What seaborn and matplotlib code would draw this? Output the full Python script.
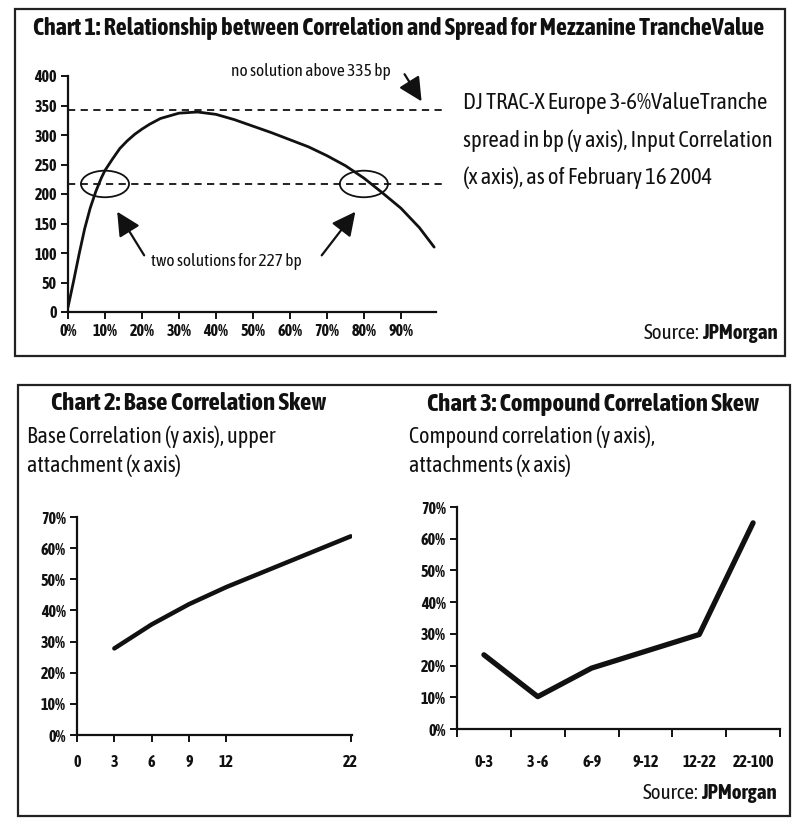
import matplotlib
matplotlib.use("Agg")
import matplotlib.pyplot as plt
from matplotlib.patches import Rectangle, Ellipse
from matplotlib import font_manager
import matplotlib.patheffects as pe
import seaborn as sns
import pandas as pd
import numpy as np

# ---------------- data ----------------
corr_pct = [0, 1.5, 3, 4.5, 6, 7.5, 9, 10, 12, 14, 16, 18, 20, 22, 25, 30, 35, 40, 45,
            50, 55, 60, 65, 70, 75, 80, 85, 90, 95, 99]
spread_bp = [8, 52, 98, 141, 176, 204, 227, 240, 259, 277, 290, 301, 310, 318, 328, 337, 339, 335, 326,
             315, 304, 292, 280, 265, 248, 227, 202, 176, 143, 110]
no_solution_level = 343
two_solution_level = 217
chart1_xticks = [0, 10, 20, 30, 40, 50, 60, 70, 80, 90]
chart1_yticks = [0, 50, 100, 150, 200, 250, 300, 350, 400]

base_attach = [3, 6, 9, 12, 22]
base_corr = [27.8, 35.5, 42.0, 47.5, 63.8]
base_xticks = [0, 3, 6, 9, 12, 22]

tranches = ["0-3", "3 -6", "6-9", "9-12", "12-22", "22-100"]
compound_corr = [23.4, 10.2, 19.2, 24.5, 29.8, 65.0]
pct_ticks = [0, 10, 20, 30, 40, 50, 60, 70]

# ---------------- style ----------------
sns.set_style("ticks")


def wnum(w):
    if isinstance(w, (int, float)):
        return w
    return font_manager.weight_dict.get(str(w), 400)


info = {}
for f in font_manager.fontManager.ttflist:
    key = f.name
    if f.name == "DejaVu Sans" and "condensed" in str(f.stretch):
        key = "DejaVu Sans|condensed"
    info.setdefault(key, set()).add(wnum(f.weight))
cands = [n for n in sorted(info) if ("Narrow" in n or "Condensed" in n or "condensed" in n)]
with_bold = [n for n in cands if max(info[n]) >= 600 and min(info[n]) <= 500]
if with_bold:
    chosen = with_bold[0]
    HAS_BOLD = True
elif cands:
    chosen = cands[0]
    HAS_BOLD = False
else:
    chosen = "DejaVu Sans"
    HAS_BOLD = True
family_name = chosen.split("|")[0]
plt.rcParams["font.family"] = [family_name, "DejaVu Sans"]
plt.rcParams["font.stretch"] = "condensed"
INK = "#111111"

if HAS_BOLD:
    BOLD = dict(fontweight="bold")
else:
    BOLD = dict(path_effects=[pe.withStroke(linewidth=0.9, foreground=INK)])

W, H = 800, 819
fig = plt.figure(figsize=(8, 8.19), dpi=100)
renderer = fig.canvas.get_renderer()


def fx(x):
    return x / W


def fy(y):
    return 1 - y / H


def axes_px(l, t, r, b):
    return fig.add_axes([fx(l), fy(b), (r - l) / W, (b - t) / H])


def fit_size(strings, width_px, maxsize, **kw):
    sizes = []
    for s in strings:
        t = fig.text(0, 0, s, fontsize=maxsize, **kw)
        w = t.get_window_extent(renderer).width
        t.remove()
        sizes.append(maxsize * width_px / w)
    return min(maxsize, min(sizes))


def fit_text(x, y, s, width_px, maxsize, ha="left", **kw):
    size = fit_size([s], width_px, maxsize, **kw)
    return fig.text(fx(x), fy(y), s, ha=ha, va="center", fontsize=size, color=INK, **kw)


def style_axes(ax, size):
    for s in ("top", "right"):
        ax.spines[s].set_visible(False)
    for s in ("left", "bottom"):
        ax.spines[s].set_linewidth(1.6)
        ax.spines[s].set_color(INK)
    ax.tick_params(direction="out", length=5, width=1.4, colors=INK,
                   labelsize=size, pad=3)
    for lab in ax.get_xticklabels() + ax.get_yticklabels():
        if HAS_BOLD:
            lab.set_fontweight("bold")
        else:
            lab.set_path_effects([pe.withStroke(linewidth=0.6, foreground=INK)])
    ax.set_xlabel("")
    ax.set_ylabel("")
    ax.set_facecolor("white")


tick_size = fit_size(["22-100"], 42, 11.5, **BOLD)

# frames
fig.add_artist(Rectangle((fx(15), fy(356)), (785 - 15) / W, (356 - 9) / H,
                         transform=fig.transFigure, fill=False, lw=1.6, ec="#222222"))
fig.add_artist(Rectangle((fx(18), fy(816)), (790 - 18) / W, (816 - 385) / H,
                         transform=fig.transFigure, fill=False, lw=1.6, ec="#222222"))

# ---------------- chart 1 ----------------
ax1 = axes_px(68, 76, 436, 312)
df1 = pd.DataFrame({"corr": corr_pct, "spread": spread_bp})
sns.lineplot(data=df1, x="corr", y="spread", ax=ax1, color=INK, lw=2.0)
ax1.set_xlim(0, 99.5)
ax1.set_ylim(0, 400)
ax1.set_xticks(chart1_xticks)
ax1.set_xticklabels([f"{v}%" for v in chart1_xticks])
ax1.set_yticks(chart1_yticks)
ax1.set_yticklabels([str(v) for v in chart1_yticks])
style_axes(ax1, tick_size)
yt = ax1.get_yaxis_transform()
for lvl in (no_solution_level, two_solution_level):
    ax1.plot([0, 1.03], [lvl, lvl], transform=yt, color=INK, lw=1.3,
             ls=(0, (4, 3)), clip_on=False)
for cx in (10, 80):
    ax1.add_patch(Ellipse((cx, two_solution_level), 13, 45, fill=False,
                          lw=1.3, ec=INK, clip_on=False))
arrow = dict(arrowstyle="-|>,head_length=0.9,head_width=0.45", lw=1.6, color=INK,
             mutation_scale=16, shrinkA=0, shrinkB=0)
ax1.annotate("", xy=(95.6, 357), xytext=(91, 403), arrowprops=arrow,
             annotation_clip=False)
ax1.annotate("", xy=(13.3, 170), xytext=(20.6, 96), arrowprops=arrow)
ax1.annotate("", xy=(77.7, 170), xytext=(68.6, 96), arrowprops=arrow)
fit_text(231, 72, "no solution above 335 bp", 168, 12.5)
fit_text(151, 261, "two solutions for 227 bp", 161, 12.5)

fit_text(33, 28, "Chart 1: Relationship between Correlation and Spread for Mezzanine TrancheValue",
         739, 17.5, **BOLD)
side_lines = ["DJ TRAC-X Europe 3-6%ValueTranche",
              "spread in bp (y axis), Input Correlation",
              "(x axis), as of February 16 2004"]
side_size = fit_size(side_lines[:2], 310, 17)
for i, line in enumerate(side_lines):
    fig.text(fx(463), fy(103 + 37.5 * i), line, ha="left", va="center",
             fontsize=side_size, color=INK)

src_size = fit_size(["Source: JPMorgan"], 142, 15, **BOLD)


def source(x, y):
    t = fig.text(fx(x), fy(y), "JPMorgan", ha="right", va="center",
                 fontsize=src_size, color=INK, **BOLD)
    bb = t.get_window_extent(renderer)
    fig.text(bb.x0 / W - 0.004, fy(y), "Source:",
             ha="right", va="center", fontsize=src_size, color=INK)


source(778, 333)

# ---------------- chart 2 ----------------
ax2 = axes_px(77, 517, 352, 735)
df2 = pd.DataFrame({"attach": base_attach, "corr": base_corr})
sns.lineplot(data=df2, x="attach", y="corr", ax=ax2, color=INK, lw=3.2)
ax2.set_xlim(0, 22.1)
ax2.set_ylim(0, 70)
ax2.set_xticks(base_xticks)
ax2.set_xticklabels([str(v) for v in base_xticks])
ax2.set_yticks(pct_ticks)
ax2.set_yticklabels([f"{v}%" for v in pct_ticks])
style_axes(ax2, tick_size)
ax2.tick_params(axis="x", pad=9)

title_size = min(fit_size(["Chart 2: Base Correlation Skew"], 287, 18, **BOLD),
                 fit_size(["Chart 3: Compound Correlation Skew"], 337, 18, **BOLD))
sub_size = min(fit_size(["Base Correlation (y axis), upper"], 256, 16),
               fit_size(["Compound correlation (y axis),"], 247, 16))
fig.text(fx(51), fy(404), "Chart 2: Base Correlation Skew", ha="left", va="center",
         fontsize=title_size, color=INK, **BOLD)
fig.text(fx(27), fy(437), "Base Correlation (y axis), upper", ha="left", va="center",
         fontsize=sub_size, color=INK)
fig.text(fx(27), fy(466), "attachment (x axis)", ha="left", va="center",
         fontsize=sub_size, color=INK)

# ---------------- chart 3 ----------------
ax3 = axes_px(457, 507, 780, 729)
df3 = pd.DataFrame({"tranche": tranches, "corr": compound_corr})
sns.lineplot(data=df3, x="tranche", y="corr", ax=ax3, color=INK, lw=3.8, sort=False)
ax3.set_xlim(-0.5, len(tranches) - 0.5)
ax3.set_ylim(0, 70)
ax3.set_yticks(pct_ticks)
ax3.set_yticklabels([f"{v}%" for v in pct_ticks])
ax3.set_xticks(range(len(tranches)))
ax3.set_xticklabels(tranches)
ax3.set_xticks(np.arange(-0.5, len(tranches)), minor=True)
style_axes(ax3, tick_size)
ax3.tick_params(axis="x", which="major", length=0, pad=18)
ax3.tick_params(axis="x", which="minor", direction="out", length=6, width=1.4, colors=INK)

fig.text(fx(427), fy(404), "Chart 3: Compound Correlation Skew", ha="left", va="center",
         fontsize=title_size, color=INK, **BOLD)
fig.text(fx(409), fy(437), "Compound correlation (y axis),", ha="left", va="center",
         fontsize=sub_size, color=INK)
fig.text(fx(409), fy(466), "attachments (x axis)", ha="left", va="center",
         fontsize=sub_size, color=INK)
source(777, 793)

fig.savefig("out.png", dpi=100, facecolor="white")
